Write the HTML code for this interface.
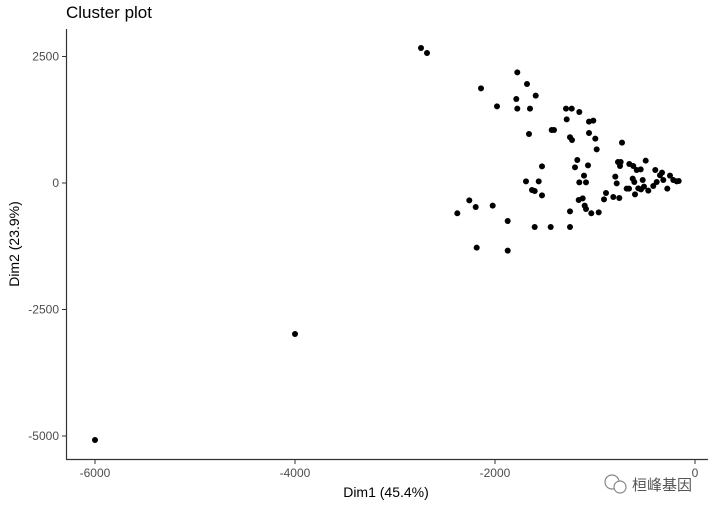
<!DOCTYPE html>
<html><head><meta charset="utf-8"><style>
body{margin:0;background:#fff;}
svg{display:block;font-family:"Liberation Sans","Noto Sans CJK SC",sans-serif;}
</style></head><body>
<svg id="chart" width="726" height="515" viewBox="0 0 726 515">
<rect width="726" height="515" fill="#fff"/>
<text x="66" y="18" font-size="17" fill="#000">Cluster plot</text>
<g id="axes"></g>
<g id="points"></g>
<text x="386" y="497" font-size="14" text-anchor="middle" fill="#000">Dim1 (45.4%)</text>
<text transform="translate(19,244) rotate(-90)" font-size="14" text-anchor="middle" fill="#000">Dim2 (23.9%)</text>
<g>
<circle cx="612" cy="482" r="7" fill="none" stroke="#888" stroke-width="1.2"/>
<circle cx="620" cy="487" r="6" fill="#fff" stroke="#888" stroke-width="1.2"/>
<text x="632" y="490" font-size="15" fill="#555">桓峰基因</text>
</g>
</svg>
<script>
const xs=[-1777,-1680,-2140,-1593,-1787,-1980,-1777,-1650,-1290,-1233,-1157,-1283,-1060,-1017,-1433,-1410,-1660,-1060,-1250,-1230,-997,-730,-983,-1177,-770,-743,-493,-1530,-1200,-1070,-750,-657,-617,-583,-543,-397,-330,-1110,-797,-623,-523,-350,-250,-1690,-1563,-1157,-1090,-783,-607,-383,-317,-217,-183,-163,-1630,-1603,-683,-660,-567,-540,-510,-467,-417,-277,-1530,-890,-910,-817,-757,-600,-1163,-1123,-2257,-2193,-2023,-1103,-1090,-2377,-1250,-1037,-963,-1873,-1603,-1443,-1250,-2183,-1873,-2740,-2680,-4000,-6000];
const ys=[2187,1957,1871,1726,1660,1515,1469,1469,1469,1469,1403,1258,1212,1232,1048,1048,968,988,903,850,876,797,665,455,415,415,441,329,310,349,336,376,336,257,270,257,204,145,125,86,59,152,145,33,33,13,13,-7,20,20,59,59,33,40,-138,-158,-112,-112,-105,-125,-72,-151,-59,-112,-244,-198,-323,-277,-297,-224,-336,-303,-343,-474,-448,-448,-514,-599,-560,-599,-580,-751,-870,-870,-870,-1278,-1337,2668,2569,-2984,-5079];
const xTicks=[-6000,-4000,-2000,0];
const yTicks=[2500,0,-2500,-5000];
const xLabels=["-6000","-4000","-2000","0"];
const yLabels=["2500","0","-2500","-5000"];
const NS="http://www.w3.org/2000/svg";
const X=v=>695+v*0.1;
const Y=v=>183-v*0.0506;
const ax=document.getElementById('axes'),pg=document.getElementById('points');
function mk(t,a,p){const e=document.createElementNS(NS,t);for(const k in a)e.setAttribute(k,a[k]);p.appendChild(e);return e;}
let l=mk('line',{x1:66.5,y1:29,x2:66.5,y2:459.5,stroke:'#333','stroke-width':1.2},ax);


l=mk('line',{x1:66,y1:459.5,x2:708,y2:459.5,stroke:'#333','stroke-width':1.2},ax);


xTicks.forEach((v,i)=>{
 const t=mk('line',{x1:X(v),y1:459.5,x2:X(v),y2:464,stroke:'#333'},ax);
 
 
 const tx=mk('text',{x:X(v),y:477,'font-size':12,'text-anchor':'middle',fill:'#4d4d4d'},ax);
 tx.textContent=xLabels[i];
 
 
});
yTicks.forEach((v,i)=>{
 const t=mk('line',{x1:62,y1:Y(v),x2:66.5,y2:Y(v),stroke:'#333'},ax);
 
 
 const tx=mk('text',{x:59,y:Y(v)+4,'font-size':12,'text-anchor':'end',fill:'#4d4d4d'},ax);
 tx.textContent=yLabels[i];
 
 
});
xs.forEach((v,i)=>{
 const c=mk('circle',{cx:X(v),cy:Y(ys[i]),r:3,fill:'#000'},pg);
 
 
});
</script>
</body></html>
